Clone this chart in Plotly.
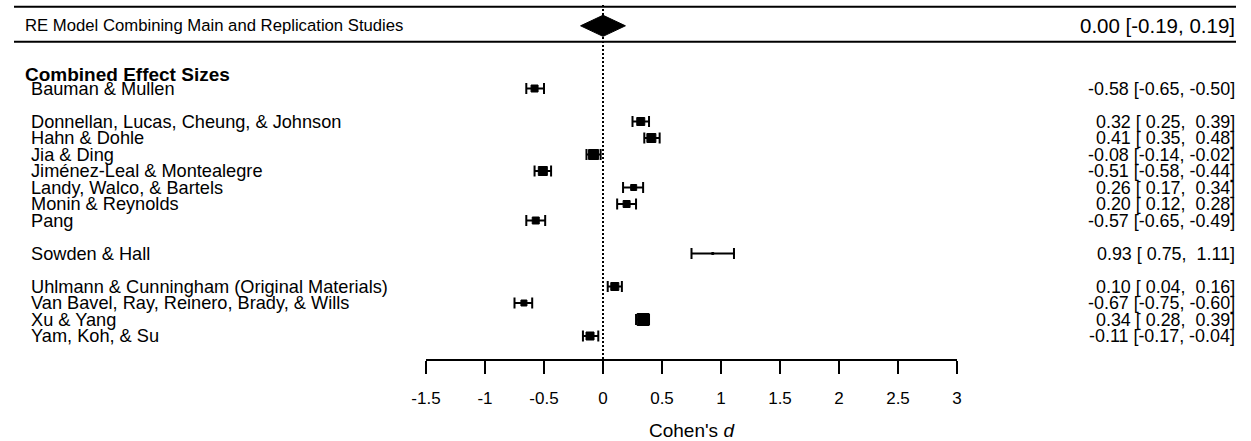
import plotly.graph_objects as go

# ---------------- data ----------------
studies = [
    "Bauman & Mullen",
    "Donnellan, Lucas, Cheung, & Johnson",
    "Hahn & Dohle",
    "Jia & Ding",
    "Jiménez-Leal & Montealegre",
    "Landy, Walco, & Bartels",
    "Monin & Reynolds",
    "Pang",
    "Sowden & Hall",
    "Uhlmann & Cunningham (Original Materials)",
    "Van Bavel, Ray, Reinero, Brady, & Wills",
    "Xu & Yang",
    "Yam, Koh, & Su",
]
est = [-0.58, 0.32, 0.41, -0.08, -0.51, 0.26, 0.20, -0.57, 0.93, 0.10, -0.67, 0.34, -0.11]
ci_lo = [-0.65, 0.25, 0.35, -0.14, -0.58, 0.17, 0.12, -0.65, 0.75, 0.04, -0.75, 0.28, -0.17]
ci_hi = [-0.50, 0.39, 0.48, -0.02, -0.44, 0.34, 0.28, -0.49, 1.11, 0.16, -0.60, 0.39, -0.04]
study_rows = [16, 14, 13, 12, 11, 10, 9, 8, 6, 4, 3, 2, 1]

re_label = "RE Model Combining Main and Replication Studies"
re_est = 0.00
re_lo = -0.19
re_hi = 0.19

header_label = "Combined Effect Sizes"

tick_vals = [-1.5, -1, -0.5, 0, 0.5, 1, 1.5, 2, 2.5, 3]
tick_labels = ["-1.5", "-1", "-0.5", "0", "0.5", "1", "1.5", "2", "2.5", "3"]
x_title = "Cohen's <i>d</i>"

# ---------------- style / layout ----------------
W, H = 1251, 441
FONT = "Liberation Sans, Arial, sans-serif"
marker_px = [7, 8, 9, 10, 9, 6, 7, 7, 2, 8, 6, 12, 8]
RE_ROW = 19.8
HEADER_ROW = 16.85
RULE_TOP = 20.96
RULE_BOT = 18.84
Y_RANGE = [-0.394, 21.364]
DIAMOND_HALF = 0.64
NBSP = "\u00a0"


def fmt(v):
    return f"{v:5.2f}"


right_text = [
    (fmt(e).strip() + " [" + fmt(l) + ", " + fmt(h) + "]").replace(" ", NBSP)
    for e, l, h in zip(est, ci_lo, ci_hi)
]
re_text = f"{re_est:.2f} [{re_lo:.2f}, {re_hi:.2f}]".replace(" ", NBSP)

fig = go.Figure()

# study estimates with CIs
fig.add_trace(go.Scatter(
    x=est, y=study_rows, mode="markers",
    marker=dict(symbol="square", size=marker_px, color="black",
                line=dict(width=1, color="black"), opacity=1),
    error_x=dict(type="data", symmetric=False,
                 array=[h - e for e, h in zip(est, ci_hi)],
                 arrayminus=[e - l for e, l in zip(est, ci_lo)],
                 thickness=2, width=5.5, color="black"),
    cliponaxis=False, hoverinfo="skip",
))

# RE model diamond
fig.add_trace(go.Scatter(
    x=[re_lo, re_est, re_hi, re_est, re_lo],
    y=[RE_ROW, RE_ROW + DIAMOND_HALF, RE_ROW, RE_ROW - DIAMOND_HALF, RE_ROW],
    mode="lines", fill="toself", fillcolor="black",
    line=dict(color="black", width=1), cliponaxis=False, hoverinfo="skip",
))

shapes = [
    dict(type="line", xref="x", yref="y", x0=0, x1=0, y0=Y_RANGE[0], y1=21.12,
         line=dict(color="black", width=2, dash="2px,2px")),
    dict(type="line", xref="paper", yref="y", x0=14 / W, x1=1236 / W, y0=RULE_TOP, y1=RULE_TOP,
         line=dict(color="black", width=2)),
    dict(type="line", xref="paper", yref="y", x0=14 / W, x1=1236 / W, y0=RULE_BOT, y1=RULE_BOT,
         line=dict(color="black", width=2)),
]

annotations = []
for name, r, t in zip(studies, study_rows, right_text):
    annotations.append(dict(x=30 / W, y=r, xref="paper", yref="y", text=name,
                            xanchor="left", yanchor="middle", showarrow=False,
                            borderpad=0, font=dict(family=FONT, size=18.2, color="black")))
    annotations.append(dict(x=1236 / W, y=r, xref="paper", yref="y", text=t,
                            xanchor="right", yanchor="middle", showarrow=False,
                            borderpad=0, font=dict(family=FONT, size=17.9, color="black")))

annotations.append(dict(x=24 / W, y=RE_ROW, xref="paper", yref="y", text=re_label,
                        xanchor="left", yanchor="middle", showarrow=False, borderpad=0,
                        font=dict(family=FONT, size=16.7, color="black")))
annotations.append(dict(x=1236 / W, y=RE_ROW, xref="paper", yref="y", text=re_text,
                        xanchor="right", yanchor="middle", showarrow=False, borderpad=0,
                        font=dict(family=FONT, size=20.5, color="black")))
annotations.append(dict(x=24 / W, y=HEADER_ROW, xref="paper", yref="y",
                        text="<b>" + header_label + "</b>",
                        xanchor="left", yanchor="middle", showarrow=False, borderpad=0,
                        font=dict(family=FONT, size=19, color="black")))

fig.update_layout(
    width=W, height=H, autosize=False,
    margin=dict(l=0, r=0, t=0, b=82, pad=0, autoexpand=False),
    paper_bgcolor="white", plot_bgcolor="white",
    showlegend=False,
    font=dict(family=FONT, color="black"),
    shapes=shapes, annotations=annotations,
    xaxis=dict(
        domain=[426 / W, 957 / W], range=[-1.5, 3],
        tickmode="array", tickvals=tick_vals, ticktext=tick_labels,
        ticks="outside", ticklen=13, tickwidth=2, tickcolor="black",
        showline=True, linewidth=2, linecolor="black",
        showgrid=False, zeroline=False, automargin=False,
        tickfont=dict(family=FONT, size=17, color="black"),
        ticklabelstandoff=10,
        title=dict(text=x_title, font=dict(family=FONT, size=19, color="black"), standoff=18),
        fixedrange=True,
    ),
    yaxis=dict(range=Y_RANGE, visible=False, fixedrange=True, automargin=False),
)

fig.write_html(
    "out.html",
    config={"responsive": False, "displayModeBar": False},
    post_script="document.documentElement.style.margin='0';document.body.style.margin='0';document.body.style.overflow='hidden';",
)
